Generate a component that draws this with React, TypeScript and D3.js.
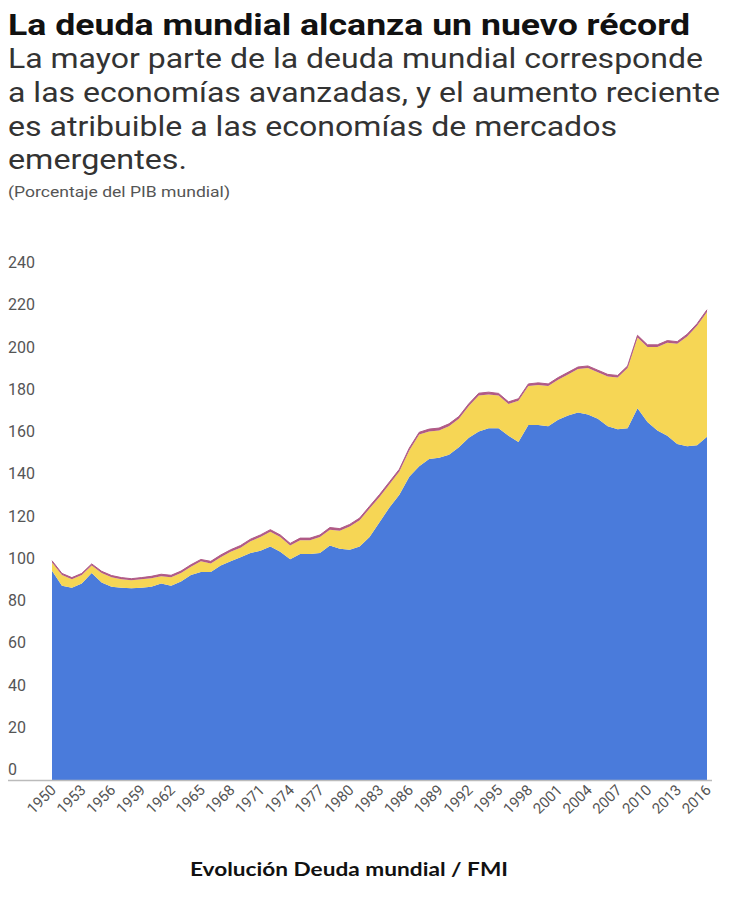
import React from 'react';
import * as d3 from 'd3';

// años 1950..2016
const years = d3.range(1950, 2017);

// deuda de economías avanzadas (% PIB mundial)
const avanzadas = [
  99, 92, 91, 93, 98, 93.5, 91.5, 91, 90.8, 91,
  91.5, 93, 92, 94, 97, 98.5, 98.5, 101.5, 103.5, 105.5,
  107.5, 108.5, 110.5, 108, 104.5, 107, 107, 107.5, 111, 109.5,
  109, 110.5, 115, 122, 129, 135, 143.5, 148.5, 152, 152.5,
  154, 157.5, 162, 165, 166.5, 166.5, 163, 160, 168, 168,
  167.5, 170.5, 172.5, 174, 173, 171, 167.5, 166, 166.5, 176,
  169.5, 165.5, 163, 159, 158, 158.5, 162.5,
];

// economías de mercados emergentes
const emergentes = [
  4, 5, 4, 4, 3.5, 4.5, 4.5, 4, 3.7, 4,
  4, 3.5, 4, 4, 4, 5, 4, 4, 4.5, 4.5,
  5.5, 6.5, 7, 7, 6.5, 6.5, 6.5, 7.5, 7.5, 8.5,
  11, 12.5, 13.5, 12, 11, 11, 12.5, 15, 13, 13,
  13.5, 13.5, 15, 17, 16, 15.5, 15, 19.5, 18.5, 19,
  19, 19, 19.5, 20.5, 22, 22, 23.5, 24.5, 28.5, 33.5,
  35.5, 39.5, 44, 47.5, 52, 56.5, 59,
];

// países de bajo ingreso
const bajoIngreso = [
  0.8, 0.8, 0.8, 0.8, 0.8, 0.8, 0.8, 0.8, 0.8, 0.8,
  0.9, 0.9, 0.9, 0.9, 0.9, 0.9, 1, 1, 1, 1,
  1, 1, 1, 1, 1, 1, 1, 1, 1, 1,
  1, 1, 1.1, 1.1, 1.1, 1.1, 1.1, 1.1, 1.1, 1.1,
  1.1, 1.1, 1.1, 1.1, 1.1, 1, 1, 1, 1, 1,
  1, 1, 1, 1, 1, 1, 1, 1, 1, 1,
  1, 1, 1, 1, 1, 1, 1.1,
];

const yTicks = [0, 20, 40, 60, 80, 100, 120, 140, 160, 180, 200, 220, 240];
const xTicks = d3.range(1950, 2017, 3);

const keys = ['avanzadas', 'emergentes', 'bajoIngreso'];
const colors: Record<string, string> = {
  avanzadas: '#4a7bdb',
  emergentes: '#f6d655',
  bajoIngreso: '#b05a86',
};

const W = 730;
const H = 899;

export default function App() {
  const table = years.map((y, i) => ({
    year: y,
    avanzadas: avanzadas[i],
    emergentes: emergentes[i],
    bajoIngreso: bajoIngreso[i],
  }));

  const x = d3.scaleLinear().domain([1950, 2016]).range([52, 707]);
  const y = d3.scaleLinear().domain([0, 240]).range([780, 273]);

  const series = d3.stack<any>().keys(keys)(table);
  const area = d3
    .area<any>()
    .x((d) => x(d.data.year))
    .y0((d) => y(d[0]))
    .y1((d) => y(d[1]));

  const topLine = d3
    .line<any>()
    .x((d) => x(d.data.year))
    .y((d) => y(d[1]));

  const font = 'Roboto, "Noto Sans", sans-serif';

  return (
    <>
      <style>{'body{margin:0}'}</style>
      <svg width={W} height={H} style={{ display: 'block', background: '#fff' }}>
        {/* títulos */}
        <text x={8} y={35} fontFamily={font} fontWeight={700} fontSize={30} fill="#111"
          textLength={682} lengthAdjust="spacingAndGlyphs">
          La deuda mundial alcanza un nuevo récord
        </text>
        <text x={8} y={68} fontFamily={font} fontSize={28} fill="#333"
          textLength={695} lengthAdjust="spacingAndGlyphs">
          La mayor parte de la deuda mundial corresponde
        </text>
        <text x={8} y={102} fontFamily={font} fontSize={28} fill="#333"
          textLength={712} lengthAdjust="spacingAndGlyphs">
          a las economías avanzadas, y el aumento reciente
        </text>
        <text x={8} y={136} fontFamily={font} fontSize={28} fill="#333"
          textLength={609} lengthAdjust="spacingAndGlyphs">
          es atribuible a las economías de mercados
        </text>
        <text x={8} y={169} fontFamily={font} fontSize={28} fill="#333"
          textLength={179} lengthAdjust="spacingAndGlyphs">
          emergentes.
        </text>
        <text x={8} y={197} fontFamily={font} fontSize={14} fill="#555"
          textLength={222} lengthAdjust="spacingAndGlyphs">
          (Porcentaje del PIB mundial)
        </text>

        {/* áreas apiladas */}
        {series.map((s) => (
          <path key={s.key} d={area(s) || ''} fill={colors[s.key]} />
        ))}
        <path d={topLine(series[2]) || ''} fill="none" stroke={colors.bajoIngreso} strokeWidth={1} />

        {/* eje Y */}
        {yTicks.map((t) => (
          <text key={t} x={8} y={y(t) - 5} fontFamily={font} fontSize={16} fill="#555">
            {t}
          </text>
        ))}

        {/* eje X */}
        <line x1={8} x2={712} y1={780.5} y2={780.5} stroke="#bbb" strokeWidth={1.5} />
        {xTicks.map((t) => (
          <text
            key={t}
            transform={`translate(${x(t) + 5},${791}) rotate(-45)`}
            textAnchor="end"
            fontFamily={font}
            fontSize={15}
            fill="#555"
          >
            {t}
          </text>
        ))}

        <text x={349} y={876} textAnchor="middle" fontFamily='Lato, "Open Sans", sans-serif'
          fontWeight={700} fontSize={18} fill="#111" textLength={318} lengthAdjust="spacingAndGlyphs">
          Evolución Deuda mundial / FMI
        </text>
      </svg>
    </>
  );
}
